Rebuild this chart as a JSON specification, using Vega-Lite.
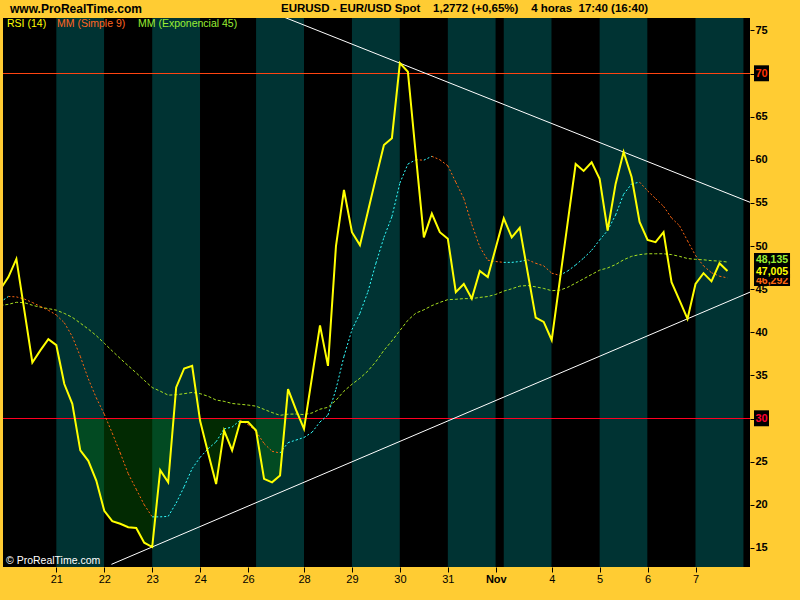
{
"$schema": "https://vega.github.io/schema/vega-lite/v6.json",
"width": 747, "height": 549,
"autosize": {"type": "none"},
"padding": {"left": 3, "top": 18, "right": 50, "bottom": 33},
"background": "#ffcc33",
"config": {"view": {"fill": "#000000", "stroke": null}, "font": "Liberation Sans"},
"datasets": {
"rsi": [
{"k":0,"rsi":45.0,"sma":43.5,"ema":43.10},{"k":1,"rsi":46.4,"sma":44.15,"ema":43.24},{"k":2,"rsi":48.5,"sma":44.1,"ema":43.47},{"k":3,"rsi":42.5,"sma":43.85,"ema":43.43},{"k":4,"rsi":36.5,"sma":43.45,"ema":43.13},{"k":5,"rsi":37.9,"sma":43.0,"ema":42.90},{"k":6,"rsi":39.2,"sma":42.55,"ema":42.74},{"k":7,"rsi":38.5,"sma":42.0,"ema":42.56},{"k":8,"rsi":34.0,"sma":41.1,"ema":42.19},{"k":9,"rsi":31.7,"sma":39.5,"ema":41.73},
{"k":10,"rsi":26.3,"sma":37.2,"ema":41.06},{"k":11,"rsi":25.1,"sma":34.6,"ema":40.37},{"k":12,"rsi":22.8,"sma":32.4,"ema":39.61},{"k":13,"rsi":19.3,"sma":30.5,"ema":38.73},{"k":14,"rsi":18.1,"sma":28.3,"ema":37.83},{"k":15,"rsi":17.8,"sma":26.0,"ema":36.96},{"k":16,"rsi":17.4,"sma":23.6,"ema":36.11},{"k":17,"rsi":17.3,"sma":21.8,"ema":35.29},{"k":18,"rsi":15.6,"sma":20.0,"ema":34.43},{"k":19,"rsi":15.1,"sma":18.6,"ema":33.59},
{"k":20,"rsi":24.0,"sma":18.6,"ema":33.17},{"k":21,"rsi":22.6,"sma":18.65,"ema":32.71},{"k":22,"rsi":33.6,"sma":20.2,"ema":32.75},{"k":23,"rsi":35.8,"sma":22.1,"ema":32.88},{"k":24,"rsi":36.1,"sma":24.2,"ema":33.02},{"k":25,"rsi":29.7,"sma":25.5,"ema":32.88},{"k":26,"rsi":26.0,"sma":26.5,"ema":32.58},{"k":27,"rsi":22.4,"sma":27.3,"ema":32.14},{"k":28,"rsi":28.6,"sma":28.8,"ema":31.99},{"k":29,"rsi":26.3,"sma":29.0,"ema":31.74},
{"k":30,"rsi":29.6,"sma":29.8,"ema":31.65},{"k":31,"rsi":29.6,"sma":29.3,"ema":31.56},{"k":32,"rsi":28.6,"sma":28.5,"ema":31.43},{"k":33,"rsi":23.0,"sma":27.1,"ema":31.06},{"k":34,"rsi":22.6,"sma":26.2,"ema":30.69},{"k":35,"rsi":23.4,"sma":26.0,"ema":30.37},{"k":36,"rsi":33.4,"sma":27.2,"ema":30.50},{"k":37,"rsi":31.0,"sma":27.5,"ema":30.52},{"k":38,"rsi":28.8,"sma":27.8,"ema":30.45},{"k":39,"rsi":34.8,"sma":28.4,"ema":30.64},
{"k":40,"rsi":40.8,"sma":29.6,"ema":31.08},{"k":41,"rsi":36.1,"sma":30.4,"ema":31.30},{"k":42,"rsi":50.0,"sma":33.4,"ema":32.11},{"k":43,"rsi":56.5,"sma":37.2,"ema":33.17},{"k":44,"rsi":51.6,"sma":40.3,"ema":33.97},{"k":45,"rsi":50.1,"sma":42.2,"ema":34.67},{"k":46,"rsi":54.0,"sma":44.7,"ema":35.51},{"k":47,"rsi":57.9,"sma":48.0,"ema":36.60},{"k":48,"rsi":61.7,"sma":51.0,"ema":37.90},{"k":49,"rsi":62.5,"sma":53.4,"ema":39.00},
{"k":50,"rsi":71.2,"sma":57.3,"ema":40.20},{"k":51,"rsi":70.2,"sma":59.5,"ema":41.39},{"k":52,"rsi":60.5,"sma":60.0,"ema":42.22},{"k":53,"rsi":51.0,"sma":59.95,"ema":42.60},{"k":54,"rsi":53.75,"sma":60.4,"ema":43.09},{"k":55,"rsi":51.6,"sma":60.0,"ema":43.46},{"k":56,"rsi":50.85,"sma":59.3,"ema":43.78},{"k":57,"rsi":44.65,"sma":57.4,"ema":43.82},{"k":58,"rsi":45.6,"sma":55.5,"ema":43.90},{"k":59,"rsi":43.9,"sma":52.5,"ema":43.90},
{"k":60,"rsi":47.1,"sma":49.9,"ema":44.04},{"k":61,"rsi":46.4,"sma":48.35,"ema":44.14},{"k":62,"rsi":49.8,"sma":48.2,"ema":44.39},{"k":63,"rsi":53.2,"sma":48.1,"ema":44.77},{"k":64,"rsi":51.0,"sma":48.1,"ema":45.04},{"k":65,"rsi":52.1,"sma":48.2,"ema":45.35},{"k":66,"rsi":46.9,"sma":48.4,"ema":45.42},{"k":67,"rsi":41.7,"sma":48.0,"ema":45.26},{"k":68,"rsi":41.2,"sma":47.7,"ema":45.08},{"k":69,"rsi":39.1,"sma":46.85,"ema":44.82},
{"k":70,"rsi":45.9,"sma":46.6,"ema":44.87},{"k":71,"rsi":52.7,"sma":47.1,"ema":45.21},{"k":72,"rsi":59.5,"sma":47.8,"ema":45.70},{"k":73,"rsi":58.7,"sma":48.6,"ema":46.20},{"k":74,"rsi":59.7,"sma":49.5,"ema":46.70},{"k":75,"rsi":57.8,"sma":50.7,"ema":47.20},{"k":76,"rsi":51.8,"sma":51.8,"ema":47.45},{"k":77,"rsi":57.2,"sma":53.6,"ema":47.85},{"k":78,"rsi":60.9,"sma":56.0,"ema":48.40},{"k":79,"rsi":58.0,"sma":57.2,"ema":48.80},
{"k":80,"rsi":52.8,"sma":57.4,"ema":49.00},{"k":81,"rsi":50.7,"sma":56.4,"ema":49.10},{"k":82,"rsi":50.45,"sma":55.5,"ema":49.10},{"k":83,"rsi":51.6,"sma":54.6,"ema":49.10},{"k":84,"rsi":45.8,"sma":53.25,"ema":49.00},{"k":85,"rsi":43.7,"sma":52.35,"ema":48.80},{"k":86,"rsi":41.55,"sma":50.6,"ema":48.55},{"k":87,"rsi":45.6,"sma":48.9,"ema":48.45},{"k":88,"rsi":46.85,"sma":47.7,"ema":48.40},{"k":89,"rsi":45.9,"sma":46.9,"ema":48.30},
{"k":90,"rsi":48.0,"sma":46.5,"ema":48.25},{"k":91,"rsi":47.1,"sma":46.3,"ema":48.14}
],
"fill": [
{"seg":1,"k":9.31,"v":30},{"seg":1,"k":10,"v":26.3},{"seg":1,"k":11,"v":25.1},{"seg":1,"k":12,"v":22.8},{"seg":1,"k":13,"v":19.3},{"seg":1,"k":14,"v":18.1},{"seg":1,"k":15,"v":17.8},{"seg":1,"k":16,"v":17.4},{"seg":1,"k":17,"v":17.3},{"seg":1,"k":18,"v":15.6},{"seg":1,"k":19,"v":15.1},{"seg":1,"k":20,"v":24.0},{"seg":1,"k":21,"v":22.6},{"seg":1,"k":21.67,"v":30},
{"seg":2,"k":24.95,"v":30},{"seg":2,"k":25,"v":29.7},{"seg":2,"k":26,"v":26.0},{"seg":2,"k":27,"v":22.4},{"seg":2,"k":28,"v":28.6},{"seg":2,"k":29,"v":26.3},{"seg":2,"k":30,"v":29.6},{"seg":2,"k":31,"v":29.6},{"seg":2,"k":32,"v":28.6},{"seg":2,"k":33,"v":23.0},{"seg":2,"k":34,"v":22.6},{"seg":2,"k":35,"v":23.4},{"seg":2,"k":35.66,"v":30},
{"seg":3,"k":37.45,"v":30},{"seg":3,"k":38,"v":28.8},{"seg":3,"k":38.2,"v":30}
],
"bands": [
{"x0":0,"x1":7,"shade":"dark"},{"x0":7,"x1":13,"shade":"teal"},{"x0":13,"x1":19,"shade":"dark"},{"x0":19,"x1":25,"shade":"teal"},{"x0":25,"x1":32,"shade":"dark"},{"x0":32,"x1":38,"shade":"teal"},{"x0":38,"x1":44,"shade":"dark"},{"x0":44,"x1":50,"shade":"teal"},{"x0":50,"x1":56,"shade":"dark"},{"x0":56,"x1":62,"shade":"teal"},{"x0":62,"x1":63,"shade":"dark"},{"x0":63,"x1":69,"shade":"teal"},{"x0":69,"x1":75,"shade":"dark"},{"x0":75,"x1":81,"shade":"teal"},{"x0":81,"x1":87,"shade":"dark"},{"x0":87,"x1":93,"shade":"teal"}
],
"trend": [
{"id":"upper","k":35,"v":76.72},{"id":"upper","k":93.82,"v":55.07},
{"id":"lower","k":13.9,"v":13.09},{"id":"lower","k":93.82,"v":44.65}
]
},
"layer": [
{"data": {"name": "rsi"}, "mark": {"type": "line", "opacity": 0, "clip": true},
 "encoding": {
  "x": {"field": "k", "type": "quantitative", "scale": {"domain": [0.325, 93.82], "nice": false, "zero": false},
   "axis": {"title": null, "orient": "bottom", "values": [7,13,19,25,31,38,44,50,56,62,69,75,81,87],
    "labelExpr": "datum.value === 7 ? '21' : datum.value === 13 ? '22' : datum.value === 19 ? '23' : datum.value === 25 ? '24' : datum.value === 31 ? '26' : datum.value === 38 ? '28' : datum.value === 44 ? '29' : datum.value === 50 ? '30' : datum.value === 56 ? '31' : datum.value === 62 ? 'Nov' : datum.value === 69 ? '4' : datum.value === 75 ? '5' : datum.value === 81 ? '6' : '7'",
    "domain": false, "grid": false, "ticks": true, "tickSize": 5, "tickColor": "#000000", "labelColor": "#000000", "labelFont": "Liberation Sans", "labelFontSize": 11, "labelPadding": 1,
    "labelFontWeight": {"condition": {"test": "datum.value === 62", "value": "bold"}, "value": "normal"}, "labelFlush": false, "labelOverlap": false, "zindex": 1}},
  "y": {"field": "rsi", "type": "quantitative", "scale": {"domain": [12.783, 76.435], "nice": false, "zero": false},
   "axis": {"title": null, "orient": "right", "values": [15,20,25,30,35,40,45,50,55,60,65,70,75],
    "labelExpr": "datum.value === 70 || datum.value === 30 ? '' : datum.label",
    "domain": false, "grid": false, "ticks": true, "tickSize": 4, "tickColor": "#000000", "labelColor": "#000000", "labelFont": "Liberation Sans", "labelFontSize": 11, "labelFontWeight": "bold", "labelPadding": 1, "labelOverlap": false, "zindex": 0}}
 }},
{"data": {"name": "bands"}, "mark": {"type": "rect", "clip": true},
 "encoding": {
  "x": {"field": "x0", "type": "quantitative", "scale": {"domain": [0.325, 93.82], "nice": false, "zero": false}, "axis": {"title": null}},
  "x2": {"field": "x1"},
  "color": {"field": "shade", "type": "nominal", "scale": {"domain": ["dark", "teal"], "range": ["#000000", "#003333"]}, "legend": null}
 }},
{"data": {"name": "fill"}, "mark": {"type": "area", "color": "#057105", "opacity": 0.37, "clip": true},
 "encoding": {
  "x": {"field": "k", "type": "quantitative", "scale": {"domain": [0.325, 93.82], "nice": false, "zero": false}, "axis": {"title": null}},
  "y": {"field": "v", "type": "quantitative", "scale": {"domain": [12.783, 76.435], "nice": false, "zero": false}, "axis": {"title": null}},
  "y2": {"datum": 30},
  "detail": {"field": "seg", "type": "nominal"}
 }},
{"data": {"values": [{}]}, "mark": {"type": "rule", "color": "#ff4411", "strokeWidth": 1},
 "encoding": {"y": {"datum": 70, "type": "quantitative", "scale": {"domain": [12.783, 76.435], "nice": false, "zero": false}, "axis": {"title": null}}}},
{"data": {"values": [{}]}, "mark": {"type": "rule", "color": "#ff0022", "strokeWidth": 1},
 "encoding": {"y": {"datum": 30, "type": "quantitative", "scale": {"domain": [12.783, 76.435], "nice": false, "zero": false}, "axis": {"title": null}}}},
{"data": {"name": "rsi"}, "mark": {"type": "line", "color": "#a8e020", "strokeWidth": 1, "strokeDash": [3, 2], "clip": true},
 "encoding": {
  "x": {"field": "k", "type": "quantitative", "scale": {"domain": [0.325, 93.82], "nice": false, "zero": false}, "axis": {"title": null}},
  "y": {"field": "ema", "type": "quantitative", "scale": {"domain": [12.783, 76.435], "nice": false, "zero": false}, "axis": {"title": null}}
 }},
{"data": {"name": "rsi"},
 "transform": [
  {"window": [{"op": "lead", "field": "sma", "as": "sma2"}, {"op": "lead", "field": "k", "as": "k2"}], "sort": [{"field": "k"}]},
  {"filter": "datum.k2 != null"}
 ],
 "mark": {"type": "rule", "strokeWidth": 1, "strokeDash": [2, 2], "clip": true},
 "encoding": {
  "x": {"field": "k", "type": "quantitative", "scale": {"domain": [0.325, 93.82], "nice": false, "zero": false}, "axis": {"title": null}},
  "x2": {"field": "k2"},
  "y": {"field": "sma", "type": "quantitative", "scale": {"domain": [12.783, 76.435], "nice": false, "zero": false}, "axis": {"title": null}},
  "y2": {"field": "sma2"},
  "color": {"condition": {"test": "datum.sma2 >= datum.sma", "value": "#33ffff"}, "value": "#ff6611"}
 }},
{"data": {"name": "trend"}, "mark": {"type": "line", "color": "#ffffff", "strokeWidth": 1, "clip": true},
 "encoding": {
  "x": {"field": "k", "type": "quantitative", "scale": {"domain": [0.325, 93.82], "nice": false, "zero": false}, "axis": {"title": null}},
  "y": {"field": "v", "type": "quantitative", "scale": {"domain": [12.783, 76.435], "nice": false, "zero": false}, "axis": {"title": null}},
  "detail": {"field": "id", "type": "nominal"}
 }},
{"data": {"name": "rsi"}, "mark": {"type": "line", "color": "#ffff00", "strokeWidth": 2, "clip": true},
 "encoding": {
  "x": {"field": "k", "type": "quantitative", "scale": {"domain": [0.325, 93.82], "nice": false, "zero": false}, "axis": {"title": null}},
  "y": {"field": "rsi", "type": "quantitative", "scale": {"domain": [12.783, 76.435], "nice": false, "zero": false}, "axis": {"title": null}}
 }},
{"data": {"values": [{"t": "www.ProRealTime.com"}]}, "mark": {"type": "text", "align": "left", "baseline": "middle", "color": "#000000", "fontSize": 12, "fontWeight": "bold", "font": "Liberation Sans"},
 "encoding": {"x": {"datum": 1.2, "type": "quantitative", "scale": {"domain": [0.325, 93.82], "nice": false, "zero": false}, "axis": {"title": null}},
  "y": {"datum": 77.5, "type": "quantitative", "scale": {"domain": [12.783, 76.435], "nice": false, "zero": false}, "axis": {"title": null}}, "text": {"field": "t"}}},
{"data": {"values": [{"t": "EURUSD - EUR/USD Spot\u00a0\u00a0\u00a0\u00a01,2772 (+0,65%)\u00a0\u00a0\u00a0\u00a04 horas\u00a0\u00a017:40 (16:40)"}]}, "mark": {"type": "text", "align": "left", "baseline": "middle", "color": "#000000", "fontSize": 11.5, "fontWeight": "bold", "font": "Liberation Sans"},
 "encoding": {"x": {"datum": 35.12, "type": "quantitative", "scale": {"domain": [0.325, 93.82], "nice": false, "zero": false}, "axis": {"title": null}},
  "y": {"datum": 77.5, "type": "quantitative", "scale": {"domain": [12.783, 76.435], "nice": false, "zero": false}, "axis": {"title": null}}, "text": {"field": "t"}}},
{"data": {"values": [{"t": "RSI (14)"}]}, "mark": {"type": "text", "align": "left", "baseline": "middle", "color": "#ffff00", "fontSize": 10.5, "font": "Liberation Sans"},
 "encoding": {"x": {"datum": 0.83, "type": "quantitative", "scale": {"domain": [0.325, 93.82], "nice": false, "zero": false}, "axis": {"title": null}},
  "y": {"datum": 75.73, "type": "quantitative", "scale": {"domain": [12.783, 76.435], "nice": false, "zero": false}, "axis": {"title": null}}, "text": {"field": "t"}}},
{"data": {"values": [{"t": "MM (Simple 9)"}]}, "mark": {"type": "text", "align": "left", "baseline": "middle", "color": "#ff6622", "fontSize": 10.5, "font": "Liberation Sans"},
 "encoding": {"x": {"datum": 7.08, "type": "quantitative", "scale": {"domain": [0.325, 93.82], "nice": false, "zero": false}, "axis": {"title": null}},
  "y": {"datum": 75.73, "type": "quantitative", "scale": {"domain": [12.783, 76.435], "nice": false, "zero": false}, "axis": {"title": null}}, "text": {"field": "t"}}},
{"data": {"values": [{"t": "MM (Exponencial 45)"}]}, "mark": {"type": "text", "align": "left", "baseline": "middle", "color": "#99ee33", "fontSize": 10.5, "font": "Liberation Sans"},
 "encoding": {"x": {"datum": 17.22, "type": "quantitative", "scale": {"domain": [0.325, 93.82], "nice": false, "zero": false}, "axis": {"title": null}},
  "y": {"datum": 75.73, "type": "quantitative", "scale": {"domain": [12.783, 76.435], "nice": false, "zero": false}, "axis": {"title": null}}, "text": {"field": "t"}}},
{"data": {"values": [{"t": "\u00a9 ProRealTime.com"}]}, "mark": {"type": "text", "align": "left", "baseline": "middle", "color": "#ffffff", "fontSize": 10.5, "font": "Liberation Sans"},
 "encoding": {"x": {"datum": 0.7, "type": "quantitative", "scale": {"domain": [0.325, 93.82], "nice": false, "zero": false}, "axis": {"title": null}},
  "y": {"datum": 13.45, "type": "quantitative", "scale": {"domain": [12.783, 76.435], "nice": false, "zero": false}, "axis": {"title": null}}, "text": {"field": "t"}}},
{"data": {"values": [{}]}, "mark": {"type": "rect", "color": "#000000"},
 "encoding": {"x": {"datum": 94.32, "type": "quantitative", "scale": {"domain": [0.325, 93.82], "nice": false, "zero": false}, "axis": {"title": null}}, "x2": {"datum": 96.2},
  "y": {"datum": 70.95, "type": "quantitative", "scale": {"domain": [12.783, 76.435], "nice": false, "zero": false}, "axis": {"title": null}}, "y2": {"datum": 69.1}}},
{"data": {"values": [{"t": "70"}]}, "mark": {"type": "text", "align": "center", "baseline": "middle", "color": "#ff3300", "fontSize": 11, "fontWeight": "bold", "font": "Liberation Sans"},
 "encoding": {"x": {"datum": 95.26, "type": "quantitative", "scale": {"domain": [0.325, 93.82], "nice": false, "zero": false}, "axis": {"title": null}},
  "y": {"datum": 70, "type": "quantitative", "scale": {"domain": [12.783, 76.435], "nice": false, "zero": false}, "axis": {"title": null}}, "text": {"field": "t"}}},
{"data": {"values": [{}]}, "mark": {"type": "rect", "color": "#000000"},
 "encoding": {"x": {"datum": 94.32, "type": "quantitative", "scale": {"domain": [0.325, 93.82], "nice": false, "zero": false}, "axis": {"title": null}}, "x2": {"datum": 96.2},
  "y": {"datum": 30.95, "type": "quantitative", "scale": {"domain": [12.783, 76.435], "nice": false, "zero": false}, "axis": {"title": null}}, "y2": {"datum": 29.1}}},
{"data": {"values": [{"t": "30"}]}, "mark": {"type": "text", "align": "center", "baseline": "middle", "color": "#ff0033", "fontSize": 11, "fontWeight": "bold", "font": "Liberation Sans"},
 "encoding": {"x": {"datum": 95.26, "type": "quantitative", "scale": {"domain": [0.325, 93.82], "nice": false, "zero": false}, "axis": {"title": null}},
  "y": {"datum": 30, "type": "quantitative", "scale": {"domain": [12.783, 76.435], "nice": false, "zero": false}, "axis": {"title": null}}, "text": {"field": "t"}}},
{"data": {"values": [{}]}, "mark": {"type": "rect", "color": "#000000"},
 "encoding": {"x": {"datum": 94.32, "type": "quantitative", "scale": {"domain": [0.325, 93.82], "nice": false, "zero": false}, "axis": {"title": null}}, "x2": {"datum": 98.83},
  "y": {"datum": 49.19, "type": "quantitative", "scale": {"domain": [12.783, 76.435], "nice": false, "zero": false}, "axis": {"title": null}}, "y2": {"datum": 47.8}}},
{"data": {"values": [{"t": "48,135"}]}, "mark": {"type": "text", "align": "left", "baseline": "middle", "color": "#99ee33", "fontSize": 10.5, "fontWeight": "bold", "font": "Liberation Sans"},
 "encoding": {"x": {"datum": 94.57, "type": "quantitative", "scale": {"domain": [0.325, 93.82], "nice": false, "zero": false}, "axis": {"title": null}},
  "y": {"datum": 48.38, "type": "quantitative", "scale": {"domain": [12.783, 76.435], "nice": false, "zero": false}, "axis": {"title": null}}, "text": {"field": "t"}}},
{"data": {"values": [{}]}, "mark": {"type": "rect", "color": "#000000"},
 "encoding": {"x": {"datum": 94.32, "type": "quantitative", "scale": {"domain": [0.325, 93.82], "nice": false, "zero": false}, "axis": {"title": null}}, "x2": {"datum": 98.83},
  "y": {"datum": 46.75, "type": "quantitative", "scale": {"domain": [12.783, 76.435], "nice": false, "zero": false}, "axis": {"title": null}}, "y2": {"datum": 45.36}}},
{"data": {"values": [{"t": "46,292"}]}, "mark": {"type": "text", "align": "left", "baseline": "middle", "color": "#ff6611", "fontSize": 10.5, "fontWeight": "bold", "font": "Liberation Sans"},
 "encoding": {"x": {"datum": 94.57, "type": "quantitative", "scale": {"domain": [0.325, 93.82], "nice": false, "zero": false}, "axis": {"title": null}},
  "y": {"datum": 45.94, "type": "quantitative", "scale": {"domain": [12.783, 76.435], "nice": false, "zero": false}, "axis": {"title": null}}, "text": {"field": "t"}}},
{"data": {"values": [{}]}, "mark": {"type": "rect", "color": "#000000"},
 "encoding": {"x": {"datum": 94.32, "type": "quantitative", "scale": {"domain": [0.325, 93.82], "nice": false, "zero": false}, "axis": {"title": null}}, "x2": {"datum": 98.83},
  "y": {"datum": 47.8, "type": "quantitative", "scale": {"domain": [12.783, 76.435], "nice": false, "zero": false}, "axis": {"title": null}}, "y2": {"datum": 46.29}}},
{"data": {"values": [{"t": "47,005"}]}, "mark": {"type": "text", "align": "left", "baseline": "middle", "color": "#ffff00", "fontSize": 10.5, "fontWeight": "bold", "font": "Liberation Sans"},
 "encoding": {"x": {"datum": 94.57, "type": "quantitative", "scale": {"domain": [0.325, 93.82], "nice": false, "zero": false}, "axis": {"title": null}},
  "y": {"datum": 47.005, "type": "quantitative", "scale": {"domain": [12.783, 76.435], "nice": false, "zero": false}, "axis": {"title": null}}, "text": {"field": "t"}}}
]
}
